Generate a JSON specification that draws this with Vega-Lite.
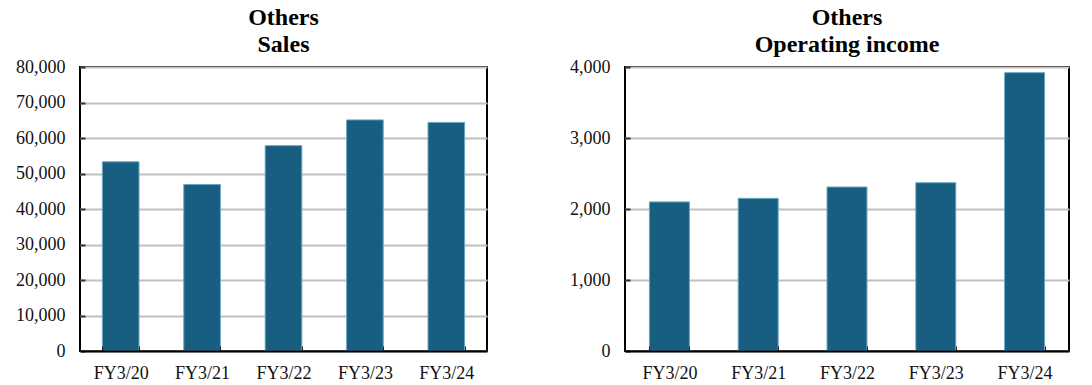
{
  "$schema": "https://vega.github.io/schema/vega-lite/v6.json",
  "padding": {"left": 14, "top": 5, "right": 5, "bottom": 0},
  "background": "white",
  "data": {"values": [
    {"fy": "FY3/20", "sales": 53300, "income": 2100},
    {"fy": "FY3/21", "sales": 46900, "income": 2150},
    {"fy": "FY3/22", "sales": 57850, "income": 2310},
    {"fy": "FY3/23", "sales": 65100, "income": 2370},
    {"fy": "FY3/24", "sales": 64400, "income": 3920}
  ]},
  "spacing": 80,
  "hconcat": [
    {
      "width": 407,
      "height": 284,
      "title": {"text": ["Others", "Sales"]},
      "mark": {"type": "bar", "color": "#175E80", "stroke": "#6aa6c4", "strokeWidth": 1},
      "encoding": {
        "x": {"field": "fy", "type": "nominal", "sort": null, "title": null,
              "scale": {"paddingInner": 0.55, "paddingOuter": 0.275},
              "axis": {"labelAngle": 0, "zindex": 1, "grid": false}},
        "y": {"field": "sales", "type": "quantitative", "title": null,
              "scale": {"domain": [0, 80000], "nice": false},
              "axis": {"values": [0, 10000, 20000, 30000, 40000, 50000, 60000, 70000, 80000], "format": ",d"}}
      }
    },
    {
      "width": 444,
      "height": 284,
      "title": {"text": ["Others", "Operating income"]},
      "mark": {"type": "bar", "color": "#175E80", "stroke": "#6aa6c4", "strokeWidth": 1},
      "encoding": {
        "x": {"field": "fy", "type": "nominal", "sort": null, "title": null,
              "scale": {"paddingInner": 0.55, "paddingOuter": 0.275},
              "axis": {"labelAngle": 0, "zindex": 1, "grid": false}},
        "y": {"field": "income", "type": "quantitative", "title": null,
              "scale": {"domain": [0, 4000], "nice": false},
              "axis": {"values": [0, 1000, 2000, 3000, 4000], "format": ",d"}}
      }
    }
  ],
  "config": {
    "view": {"stroke": "black", "strokeWidth": 2},
    "title": {"font": "Liberation Serif", "fontWeight": "bold", "fontSize": 24, "lineHeight": 27, "color": "black", "anchor": "middle", "frame": "group", "offset": 1},
    "axis": {"labelFont": "Liberation Serif", "labelFontSize": 18, "labelColor": "#111"},
    "axisX": {"domain": true, "domainColor": "black", "domainWidth": 2, "tickBand": "extent", "tickSize": -5, "tickColor": "#222", "tickWidth": 1, "labelPadding": 18, "labelBaseline": "top"},
    "axisY": {"domain": false, "grid": true, "gridColor": "#c0c0c0", "gridWidth": 2, "tickSize": -5, "tickColor": "#333", "tickWidth": 2, "labelPadding": 20}
  }
}
